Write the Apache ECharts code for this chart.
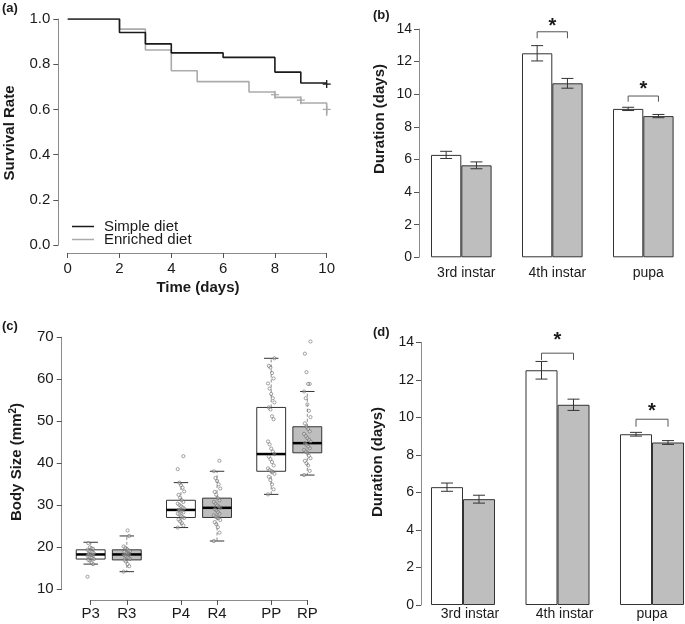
<!DOCTYPE html>
<html><head><meta charset="utf-8">
<script src="https://cdn.jsdelivr.net/npm/echarts@6/dist/echarts.min.js"></script>
<style>html,body{margin:0;padding:0;background:#fff}#c{width:685px;height:624px}</style>
</head><body><div id="c"></div>
<script>
// ---------- DATA ----------
// (a) Kaplan-Meier survival
const kmTimeSimple = [0, 2, 3, 4, 6, 8, 9, 10];
const kmSurvSimple = [1.0, 0.94, 0.89, 0.85, 0.83, 0.765, 0.717, 0.717];
const kmTimeEnriched = [0, 2, 3, 4, 5, 7, 8, 9, 10];
const kmSurvEnriched = [1.0, 0.955, 0.863, 0.771, 0.723, 0.677, 0.653, 0.628, 0.572];
const censorSimple = [[10, 0.712]];
const censorEnriched = [[8, 0.665], [9, 0.641], [10, 0.600]];

// (b)/(d) development duration
const stages = ['3rd instar', '4th instar', 'pupa'];
const simpleMean = [6.28, 12.51, 9.10];
const simpleSE = [0.22, 0.47, 0.10];
const enrichedMean = [5.64, 10.67, 8.66];
const enrichedSE = [0.21, 0.30, 0.10];
const sigStage = [1, 2];
const sigBarB = [13.83, 9.89];
const sigTipB = [13.43, 9.54];
const sigStarB = [14.15, 10.3];
const sigBarD = [13.42, 9.90];
const sigTipD = [13.06, 9.50];
const sigStarD = [14.1, 10.3];

// (c) body size boxplots
const boxLabels = ['P3', 'R3', 'P4', 'R4', 'PP', 'RP'];
const boxPos = [1, 2, 3.5, 4.5, 6, 7];
const whiskerLow = [16.0, 14.2, 24.7, 21.5, 32.6, 37.2];
const quart1 = [17.2, 17.0, 27.1, 27.1, 38.1, 42.5];
const medians = [18.3, 18.3, 28.9, 29.4, 42.2, 44.8];
const quart3 = [19.4, 19.4, 31.2, 31.7, 53.3, 48.7];
const whiskerHigh = [21.2, 22.7, 35.4, 38.1, 65.0, 57.1];
const ptsP3 = [13.0, 16.0, 16.4, 16.8, 17.0, 17.2, 17.4, 17.6, 17.8, 18.0, 18.1, 18.2, 18.3, 18.4, 18.6, 18.8, 19.0, 19.2, 19.4, 19.6, 19.8, 20.0, 21.0];
const ptsR3 = [14.2, 15.5, 16.0, 16.6, 17.0, 17.2, 17.5, 17.8, 18.0, 18.2, 18.3, 18.4, 18.6, 18.9, 19.1, 19.3, 19.6, 19.9, 20.2, 22.7, 24.0];
const ptsP4 = [24.7, 25.2, 25.8, 26.2, 26.6, 27.0, 27.2, 27.5, 27.8, 28.0, 28.3, 28.6, 28.8, 28.9, 29.2, 29.5, 29.8, 30.1, 30.4, 30.8, 31.2, 31.8, 32.5, 33.3, 34.2, 34.8, 35.4, 38.6, 41.7];
const ptsR4 = [21.5, 23.5, 24.8, 25.5, 26.0, 26.5, 27.0, 27.1, 27.3, 27.6, 28.0, 28.4, 28.8, 29.1, 29.4, 29.7, 30.0, 30.4, 30.8, 31.2, 31.7, 32.5, 33.2, 34.0, 35.0, 35.8, 36.5, 38.1, 40.6];
const ptsPP = [32.6, 33.8, 35.0, 36.0, 36.8, 37.5, 38.0, 38.1, 38.4, 38.8, 39.5, 40.3, 41.0, 41.6, 42.2, 42.8, 43.5, 44.5, 45.2, 50.5, 51.2, 52.8, 53.3, 54.5, 55.5, 56.5, 57.8, 59.0, 60.2, 61.5, 62.8, 63.2, 65.0];
const ptsRP = [37.2, 38.2, 39.5, 40.0, 40.6, 41.2, 41.8, 42.5, 42.8, 43.2, 43.6, 44.0, 44.4, 44.8, 45.2, 45.6, 46.0, 46.5, 47.0, 47.6, 48.2, 48.7, 49.5, 51.0, 52.5, 54.0, 55.5, 57.1, 58.9, 58.9, 61.7, 66.1, 69.0];
const boxPoints = [ptsP3, ptsR3, ptsP4, ptsR4, ptsPP, ptsRP];

// ---------- STYLE ----------
const FONT = "'Liberation Sans', Arial, Helvetica, sans-serif";
const TXT = '#1a1a1a';
const AXLINE = '#8c8c8c';
const TICK = '#555';
const GRAYFILL = '#bebebe';

function valAxis(o) {
  return Object.assign({
    type: 'value',
    splitLine: { show: false },
    axisLine: { show: true, onZero: false, lineStyle: { color: AXLINE, width: 1 } },
    axisTick: { show: true, length: 5, lineStyle: { color: TICK, width: 1 } },
    axisLabel: { color: TXT, fontSize: 15, fontFamily: FONT, margin: 8 }
  }, o);
}

const chart = echarts.init(document.getElementById('c'), null, { renderer: 'canvas' });

function grid(l, t, w, h) {
  return { left: l, top: t, width: w, height: h, containLabel: false, outerBoundsMode: 'none' };
}

const barWB = 30.3, barWD = 32;

function barSeries(xi, yi, data, color, bw) {
  return {
    type: 'bar', xAxisIndex: xi, yAxisIndex: yi, data: data, barWidth: bw, barGap: '0%',
    itemStyle: { color: color, borderColor: '#333', borderWidth: 1 },
    silent: true, animation: false
  };
}

function errSeries(xi, yi, means, ses, side, bw) {
  return {
    type: 'custom', xAxisIndex: xi, yAxisIndex: yi, z: 5, animation: false, silent: true,
    data: means.map((m, k) => [k, m - ses[k], m + ses[k]]),
    renderItem: function (p, api) {
      const lo = api.coord([api.value(0), api.value(1)]);
      const hi = api.coord([api.value(0), api.value(2)]);
      const x = lo[0] + side * bw / 2;
      const c = 6;
      const st = { stroke: '#333', lineWidth: 1 };
      return { type: 'group', children: [
        { type: 'line', shape: { x1: x, y1: lo[1], x2: x, y2: hi[1] }, style: st },
        { type: 'line', shape: { x1: x - c, y1: lo[1], x2: x + c, y2: lo[1] }, style: st },
        { type: 'line', shape: { x1: x - c, y1: hi[1], x2: x + c, y2: hi[1] }, style: st }
      ] };
    }
  };
}

function sigSeries(xi, yi, bars, tips, stars, bw) {
  return {
    type: 'custom', xAxisIndex: xi, yAxisIndex: yi, z: 6, animation: false, silent: true,
    data: sigStage.map((s, k) => [s, bars[k], tips[k], stars[k]]),
    renderItem: function (p, api) {
      const b = api.coord([api.value(0), api.value(1)]);
      const t = api.coord([api.value(0), api.value(2)]);
      const s = api.coord([api.value(0), api.value(3)]);
      const x1 = b[0] - bw / 2, x2 = b[0] + bw / 2;
      return { type: 'group', children: [
        { type: 'polyline', shape: { points: [[x1, t[1]], [x1, b[1]], [x2, b[1]], [x2, t[1]]] },
          style: { stroke: '#555', lineWidth: 1, fill: null } },
        { type: 'text', x: s[0], y: s[1], style: { text: '*', fill: TXT, font: 'bold 20px ' + FONT, align: 'center', verticalAlign: 'middle' } }
      ] };
    }
  };
}

const boxData = boxPos.map((x, i) => [x, whiskerLow[i], quart1[i], medians[i], quart3[i], whiskerHigh[i], i % 2]);
const ptData = [];
boxPoints.forEach((arr, g) => arr.forEach((v, i) => ptData.push([boxPos[g], v, i])));

const option = {
  animation: false,
  backgroundColor: '#fff',
  textStyle: { fontFamily: FONT },
  grid: [
    grid(67.7, 19, 259, 226),
    grid(415.8, 29, 273, 228.3),
    grid(90.7, 337.3, 216.6, 252),
    grid(415.75, 342.3, 283.5, 262.7)
  ],
  xAxis: [
    valAxis({ gridIndex: 0, min: 0, max: 10, interval: 2, offset: 8 }),
    { type: 'category', gridIndex: 1, data: stages, axisLine: { show: false }, axisTick: { show: false },
      axisLabel: { interval: 0, color: TXT, fontSize: 14, fontFamily: FONT, margin: 9, padding: [0, 0, 0, 10] } },
    valAxis({ gridIndex: 2, min: 1, max: 7, offset: 10.7,
      axisTick: { show: true, length: 5, lineStyle: { color: TICK }, customValues: boxPos },
      axisLabel: { color: TXT, fontSize: 15, fontFamily: FONT, margin: 6, customValues: boxPos,
        formatter: v => boxLabels[boxPos.indexOf(v)] } }),
    { type: 'category', gridIndex: 3, data: stages, axisLine: { show: false }, axisTick: { show: false },
      axisLabel: { interval: 0, hideOverlap: false, color: TXT, fontSize: 14, fontFamily: FONT, margin: 2,
        formatter: (v, i) => i < 2 ? '{s|' + v + '}' : '{n|' + v + '}',
        rich: { s: { fontSize: 14, fontFamily: FONT, color: TXT, padding: [0, 0, 0, 14] }, n: { fontSize: 14, fontFamily: FONT, color: TXT } } } }
  ],
  yAxis: [
    valAxis({ gridIndex: 0, min: 0, max: 1, interval: 0.2, offset: 9.4,
      axisLabel: { color: TXT, fontSize: 15, fontFamily: FONT, margin: 8, formatter: v => v.toFixed(1) } }),
    valAxis({ gridIndex: 1, min: 0, max: 14, interval: 2, offset: -3.2,
      axisLabel: { color: TXT, fontSize: 14, fontFamily: FONT, margin: 7 } }),
    valAxis({ gridIndex: 2, min: 10, max: 70, interval: 10, offset: 29 }),
    valAxis({ gridIndex: 3, min: 0, max: 14, interval: 2, offset: -5.25,
      axisLabel: { color: TXT, fontSize: 14, fontFamily: FONT, margin: 7 } })
  ],
  legend: {
    data: ['Simple diet', 'Enriched diet'], orient: 'vertical', left: 67, top: 214,
    itemWidth: 22, itemHeight: 13, itemGap: -2, icon: 'path://M0,6 L22,6 L22,7.5 L0,7.5 Z',
    textStyle: { fontSize: 15, fontFamily: FONT, color: TXT, lineHeight: 13, padding: [0, 0, 0, 5] }
  },
  series: [
    { name: 'Simple diet', type: 'line', xAxisIndex: 0, yAxisIndex: 0, step: 'end', symbol: 'none',
      data: kmTimeSimple.map((t, i) => [t, kmSurvSimple[i]]), itemStyle: { color: '#1a1a1a' },
      lineStyle: { color: '#1a1a1a', width: 1.6 }, z: 4 },
    { name: 'Enriched diet', type: 'line', xAxisIndex: 0, yAxisIndex: 0, step: 'end', symbol: 'none',
      data: kmTimeEnriched.map((t, i) => [t, kmSurvEnriched[i]]), itemStyle: { color: '#ababab' },
      lineStyle: { color: '#ababab', width: 1.6 }, z: 3 },
    { type: 'custom', xAxisIndex: 0, yAxisIndex: 0, silent: true, z: 5,
      data: censorSimple.map(d => [d[0], d[1], 0]).concat(censorEnriched.map(d => [d[0], d[1], 1])),
      renderItem: function (p, api) {
        const c = api.coord([api.value(0), api.value(1)]);
        const col = api.value(2) ? '#ababab' : '#1a1a1a';
        const st = { stroke: col, lineWidth: 1.3 };
        return { type: 'group', children: [
          { type: 'line', shape: { x1: c[0] - 4, y1: c[1], x2: c[0] + 4, y2: c[1] }, style: st },
          { type: 'line', shape: { x1: c[0], y1: c[1] - 4, x2: c[0], y2: c[1] + 4 }, style: st }
        ] };
      } },
    // (b)
    barSeries(1, 1, simpleMean, '#ffffff', barWB),
    barSeries(1, 1, enrichedMean, GRAYFILL, barWB),
    errSeries(1, 1, simpleMean, simpleSE, -1, barWB),
    errSeries(1, 1, enrichedMean, enrichedSE, 1, barWB),
    sigSeries(1, 1, sigBarB, sigTipB, sigStarB, barWB),
    // (d)
    barSeries(3, 3, simpleMean, '#ffffff', barWD),
    barSeries(3, 3, enrichedMean, GRAYFILL, barWD),
    errSeries(3, 3, simpleMean, simpleSE, -1, barWD),
    errSeries(3, 3, enrichedMean, enrichedSE, 1, barWD),
    sigSeries(3, 3, sigBarD, sigTipD, sigStarD, barWD),
    // (c) boxes
    { type: 'custom', xAxisIndex: 2, yAxisIndex: 2, silent: true, z: 3, clip: false,
      data: boxData,
      renderItem: function (p, api) {
        const x = api.value(0);
        const lo = api.coord([x, api.value(1)]);
        const q1 = api.coord([x, api.value(2)]);
        const md = api.coord([x, api.value(3)]);
        const q3 = api.coord([x, api.value(4)]);
        const hi = api.coord([x, api.value(5)]);
        const hw = api.size([0.8, 0])[0] / 2;
        const cw = hw * 0.5;
        const cx = lo[0];
        const dash = { stroke: '#8a8a8a', lineWidth: 1, lineDash: [3, 2] };
        const solid = { stroke: '#333', lineWidth: 1 };
        return { type: 'group', children: [
          { type: 'line', shape: { x1: cx, y1: q3[1], x2: cx, y2: hi[1] }, style: dash },
          { type: 'line', shape: { x1: cx, y1: q1[1], x2: cx, y2: lo[1] }, style: dash },
          { type: 'line', shape: { x1: cx - cw, y1: hi[1], x2: cx + cw, y2: hi[1] }, style: solid },
          { type: 'line', shape: { x1: cx - cw, y1: lo[1], x2: cx + cw, y2: lo[1] }, style: solid },
          { type: 'rect', shape: { x: cx - hw, y: q3[1], width: 2 * hw, height: q1[1] - q3[1] },
            style: { fill: api.value(6) ? GRAYFILL : '#ffffff', stroke: '#333', lineWidth: 1 } },
          { type: 'line', shape: { x1: cx - hw, y1: md[1], x2: cx + hw, y2: md[1] }, style: { stroke: '#000', lineWidth: 2.5 } }
        ] };
      } },
    // (c) jittered points
    { type: 'custom', xAxisIndex: 2, yAxisIndex: 2, silent: true, z: 4, clip: false,
      data: ptData,
      renderItem: function (p, api) {
        const c = api.coord([api.value(0), api.value(1)]);
        const j = ((api.value(2) * 7) % 9 - 4) * 0.8;
        return { type: 'circle', shape: { cx: c[0] + j, cy: c[1], r: 1.6 },
          style: { fill: 'rgba(255,255,255,0.3)', stroke: '#666', lineWidth: 0.6 } };
      } }
  ],
  graphic: [
    { type: 'text', x: 2, y: 2, style: { text: '(a)', font: 'bold 13px ' + FONT, fill: TXT } },
    { type: 'text', x: 10, y: 133, rotation: Math.PI / 2, style: { text: 'Survival Rate', font: 'bold 15px ' + FONT, fill: TXT, align: 'center', verticalAlign: 'middle' } },
    { type: 'text', x: 198, y: 288, style: { text: 'Time (days)', font: 'bold 15px ' + FONT, fill: TXT, align: 'center', verticalAlign: 'middle' } },
    { type: 'text', x: 373, y: 9, style: { text: '(b)', font: 'bold 13px ' + FONT, fill: TXT } },
    { type: 'text', x: 380, y: 119, rotation: Math.PI / 2, style: { text: 'Duration (days)', font: 'bold 15px ' + FONT, fill: TXT, align: 'center', verticalAlign: 'middle' } },
    { type: 'text', x: 2, y: 320, style: { text: '(c)', font: 'bold 13px ' + FONT, fill: TXT } },
    { type: 'text', x: 17, y: 462, rotation: Math.PI / 2,
      style: { text: 'Body Size (mm{s|2})', font: 'bold 15px ' + FONT, fill: TXT, align: 'center', verticalAlign: 'middle',
        rich: { s: { font: 'bold 10px ' + FONT, fill: TXT, verticalAlign: 'bottom', padding: [0, 0, 8, 0] } } } },
    { type: 'text', x: 373, y: 326, style: { text: '(d)', font: 'bold 13px ' + FONT, fill: TXT } },
    { type: 'text', x: 378, y: 462, rotation: Math.PI / 2, style: { text: 'Duration (days)', font: 'bold 15px ' + FONT, fill: TXT, align: 'center', verticalAlign: 'middle' } }
  ]
};
chart.setOption(option);
</script></body></html>
